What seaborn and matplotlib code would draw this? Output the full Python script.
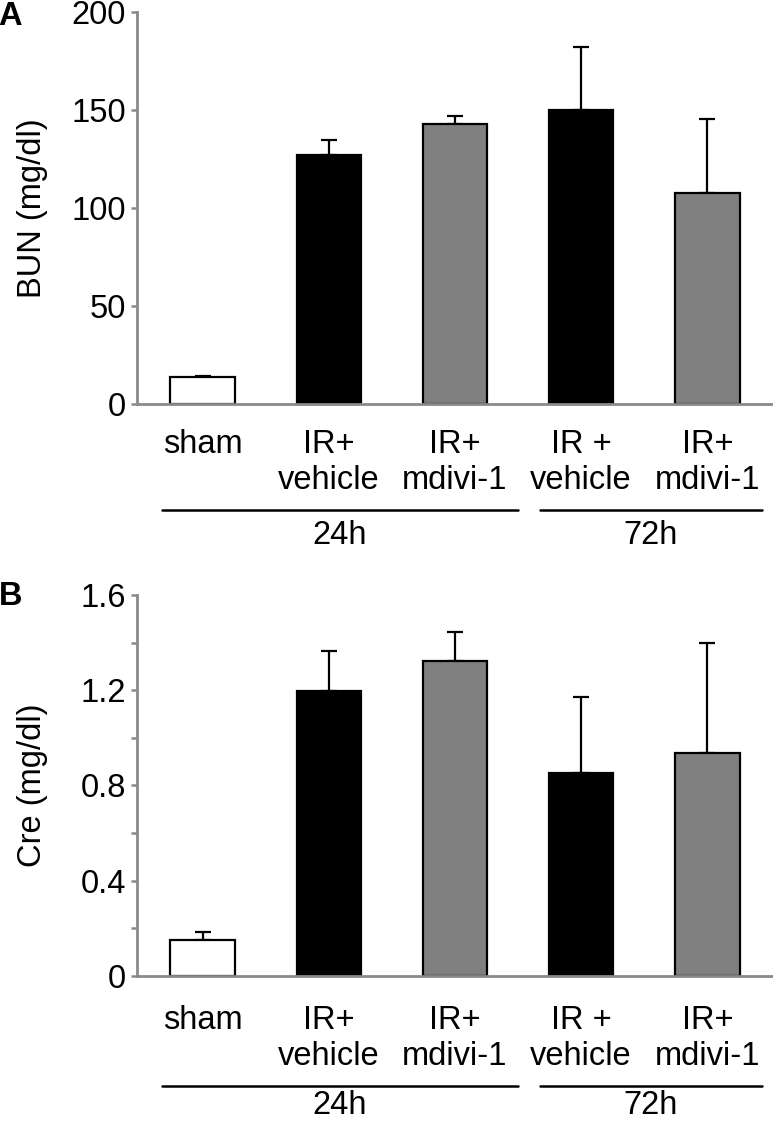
import numpy as np
import pandas as pd
import seaborn as sns
import matplotlib.pyplot as plt
from matplotlib.ticker import MultipleLocator
from matplotlib.transforms import offset_copy

# data (mean and upper SD)
conditions = ['sham', 'veh24', 'mdv24', 'veh72', 'mdv72']
tick_labels = ['sham', 'IR+\nvehicle', 'IR+\nmdivi-1', 'IR +\nvehicle', 'IR+\nmdivi-1']
bar_colors = ['white', 'black', '#808080', 'black', '#808080']

bun_mean = [13.8, 127.0, 142.8, 150.0, 107.5]
bun_err = [0.7, 7.5, 4.2, 32.0, 38.0]

cre_mean = [0.150, 1.195, 1.322, 0.853, 0.937]
cre_err = [0.033, 0.170, 0.122, 0.317, 0.463]

time_labels = ['24h', '72h']

sns.set_theme(style='white')
plt.rcParams['font.family'] = ['Liberation Sans', 'DejaVu Sans']
plt.rcParams['text.color'] = 'black'
plt.rcParams['axes.labelcolor'] = 'black'
plt.rcParams['xtick.labelcolor'] = 'black'
plt.rcParams['ytick.labelcolor'] = 'black'

fs = 23.5

fig = plt.figure(figsize=(7.73, 11.23), dpi=100)
ax_a = fig.add_axes([0.1772, 0.6403, 0.8228, 0.3490])
ax_b = fig.add_axes([0.1772, 0.1309, 0.8228, 0.3393])

grey = '#8a8a8a'


def draw_panel(ax, means, errs, ylabel, ymax, major, minor, letter, letter_y,
               pad, line_off, text_off):
    df = pd.DataFrame({'cond': conditions, 'value': means})
    sns.barplot(data=df, x='cond', y='value', hue='cond', palette=bar_colors,
                legend=False, width=0.51, saturation=1, edgecolor='black',
                linewidth=1.6, ax=ax)
    ax.errorbar(np.arange(len(means)), means, yerr=[np.zeros(len(errs)), errs],
                fmt='none', ecolor='black', elinewidth=1.6, capsize=5.5,
                capthick=1.6, zorder=0.5)

    ax.set_xlim(-0.52, 4.52)
    ax.set_ylim(0, ymax)
    ax.yaxis.set_major_locator(MultipleLocator(major))
    if minor:
        ax.yaxis.set_minor_locator(MultipleLocator(minor))
    ax.set_yticklabels([f'{t:g}' for t in ax.get_yticks()])

    ax.set_xticks(range(len(tick_labels)))
    ax.set_xticklabels(tick_labels, linespacing=1.22)
    ax.tick_params(axis='x', length=0, pad=pad, labelsize=fs)
    ax.tick_params(axis='y', which='both', left=True, length=4, width=1.8,
                   color=grey, pad=4, labelsize=fs, direction='out')

    for side in ['top', 'right']:
        ax.spines[side].set_visible(False)
    for side in ['left', 'bottom']:
        ax.spines[side].set_color(grey)
        ax.spines[side].set_linewidth(2)

    ax.set_xlabel('')
    ax.set_ylabel(ylabel, fontsize=fs)
    ax.yaxis.set_label_coords(-0.14, 0.5)

    # time-point brackets under the category labels
    line_tr = offset_copy(ax.get_xaxis_transform(), fig=fig, y=-line_off, units='dots')
    text_tr = offset_copy(ax.get_xaxis_transform(), fig=fig, y=-text_off, units='dots')
    spans = [(-0.325, 2.50), (2.67, 4.43)]
    for (x0, x1), lab in zip(spans, time_labels):
        ax.plot([x0, x1], [0, 0], color='black', lw=1.8, transform=line_tr,
                clip_on=False)
        ax.text((x0 + x1) / 2, 0, lab, ha='center', va='center', fontsize=fs,
                transform=text_tr)

    fig.text(-0.002, letter_y, letter, fontsize=fs, fontweight='bold',
             ha='left', va='top')


draw_panel(ax_a, bun_mean, bun_err, 'BUN (mg/dl)', 200, 50, None, 'A', 0.999,
           18, 106, 132)
draw_panel(ax_b, cre_mean, cre_err, 'Cre (mg/dl)', 1.6, 0.4, 0.2, 'B', 0.483,
           21, 110, 130)

fig.savefig('out.png', dpi=100)
